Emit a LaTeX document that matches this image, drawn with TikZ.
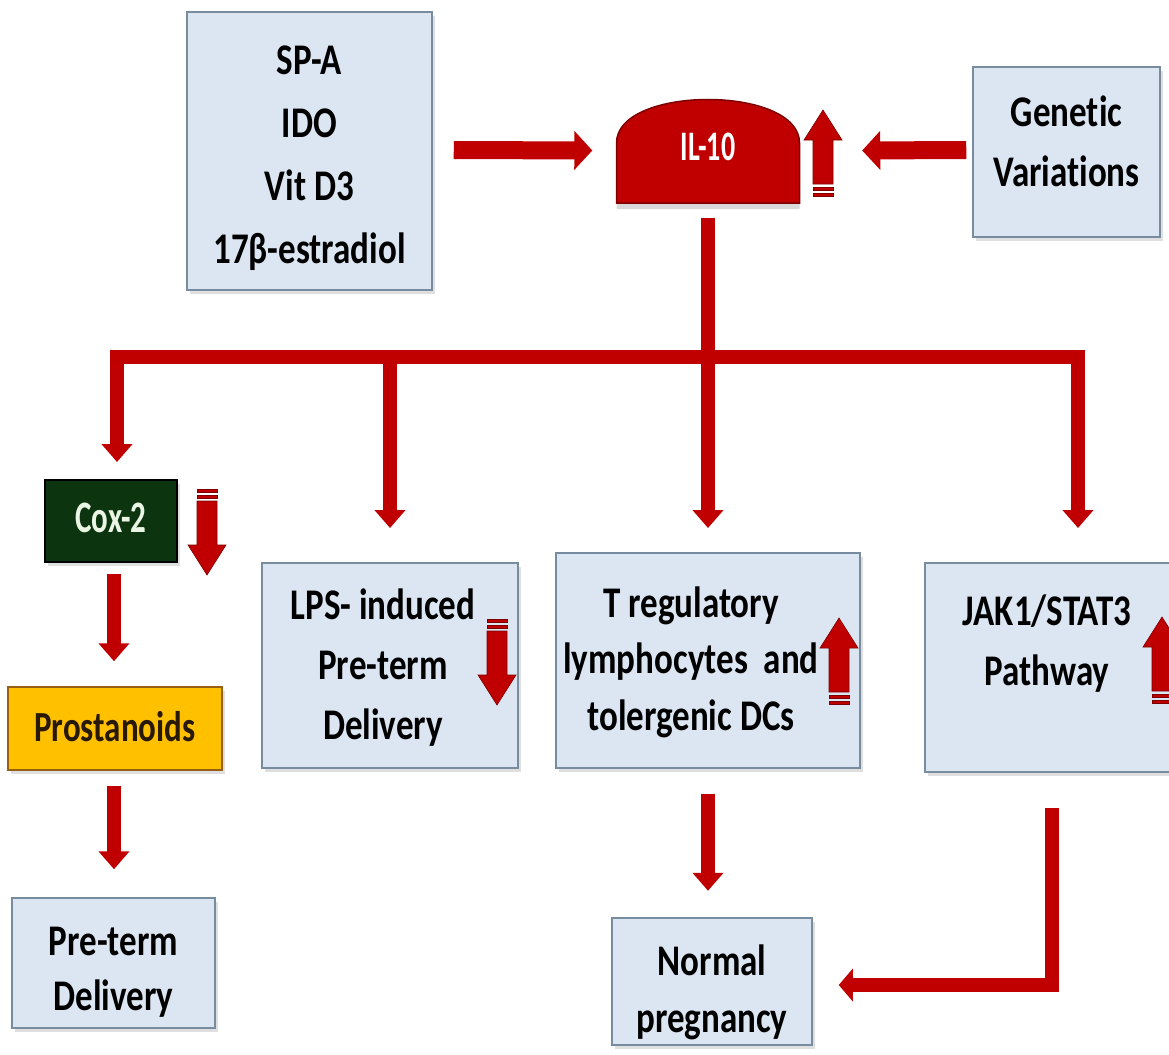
\documentclass[tikz,border=0pt]{standalone}
\usepackage{fontspec}
\setmainfont{Carlito}[Ligatures=NoCommon]
\usepackage{graphicx}
\usetikzlibrary{arrows.meta,shadows,calc}
\definecolor{boxfill}{RGB}{220,230,242}
\definecolor{boxline}{RGB}{120,140,160}
\definecolor{ared}{RGB}{192,0,0}
\definecolor{dred}{RGB}{125,0,0}
\definecolor{coxgreen}{RGB}{12,52,14}
\definecolor{gold}{RGB}{255,192,0}
\definecolor{goldline}{RGB}{150,95,20}
\newcommand\stx[4]{\scalebox{1}[#1]{\fontsize{#2}{#3}\selectfont\bfseries\begin{tabular}{@{}c@{}}#4\end{tabular}}}
\newcommand\vmove[2]{\raisebox{#1}[\height][\depth]{#2}}
\tikzset{
  pics/upind/.style={code={
    \filldraw[fill=ared,draw=dred,line width=0.6pt] (0,0) -- (19,30) -- (10,30) -- (10,74) -- (-10,74) -- (-10,30) -- (-19,30) -- cycle;
    \filldraw[fill=ared,draw=dred,line width=0.4pt] (-10,77) rectangle (10,80);
    \filldraw[fill=ared,draw=dred,line width=0.4pt] (-10,83) rectangle (10,86);
  }}
}
\begin{document}
\begin{tikzpicture}[x=1pt,y=-1pt,
  box/.style={draw=boxline, line width=1.5pt, fill=boxfill, inner sep=0pt,
    drop shadow={opacity=0.25, shadow xshift=3pt, shadow yshift=-4pt}},
  fat/.style={draw=ared, line width=18pt, -{Triangle[width=38pt,length=18pt]}},
  med/.style={draw=ared, line width=14pt, line join=miter, -{Triangle[width=30pt,length=18pt]}},
  trunk/.style={draw=ared, line width=14pt},
  lconn/.style={draw=ared, line width=14pt, line join=miter, -{Triangle[width=32pt,length=14pt]}}]
\useasboundingbox (0,0) rectangle (1169,1054);
\clip (0,0) rectangle (1169,1054);

% boxes
\node[box, minimum width=245, minimum height=278] (spa) at (309.5,151)
  {\vmove{-5pt}{\stx{1.25}{35}{50.4}{SP-A\\IDO\\Vit D3\\17β-estradiol}}};
\node[box, minimum width=187, minimum height=170] (gen) at (1066.5,152)
  {\vmove{8pt}{\stx{1.25}{35}{48}{Genetic\\Variations}}};

% IL-10 dome
\draw[draw=dred, fill=ared, line width=1.5pt,
  drop shadow={opacity=0.3, shadow xshift=0pt, shadow yshift=-6pt}]
  (616.5,203) -- (616.5,143) .. controls (616.5,85) and (799.5,85) .. (799.5,143) -- (799.5,203) -- cycle;
\node[minimum width=183, minimum height=105, inner sep=0pt, text=white] (il10) at (708,150.5)
  {\stx{1.5}{28}{34}{IL-10}};

\node[box, draw=black, fill=coxgreen, minimum width=132, minimum height=82, text={rgb,255:red,235;green,245;blue,230}] (cox) at (111,521)
  {\stx{1.45}{31}{38}{Cox-2}};
\node[box, draw=goldline, fill=gold, minimum width=214, minimum height=83, text={rgb,255:red,40;green,25;blue,5}] (pros) at (115,728.5)
  {\vmove{-3pt}{\stx{1.3}{33}{40}{Prostanoids}}};
\node[box, minimum width=203, minimum height=130] (pre) at (113.5,963)
  {\vmove{-9pt}{\stx{1.25}{35}{44}{Pre-term\\Delivery}}};
\node[box, minimum width=256, minimum height=205] (lps) at (390,665.5)
  {\kern-14pt\vmove{-2pt}{\stx{1.25}{35}{48}{LPS- induced\\Pre-term\\Delivery}}};
\node[box, minimum width=304, minimum height=215] (treg) at (708,660.5)
  {\kern-34pt\vmove{-2pt}{\stx{1.25}{35}{45}{T regulatory\\lymphocytes~ and\\tolergenic DCs}}};
\node[box, minimum width=250, minimum height=209] (jak) at (1050,667.5)
  {\kern-6pt\vmove{24pt}{\stx{1.25}{35}{48}{JAK1/STAT3\\Pathway}}};
\node[box, minimum width=200, minimum height=127] (norm) at (712,981.5)
  {\vmove{-11pt}{\stx{1.25}{35}{46}{Normal\\pregnancy}}};

% indicator arrows
\pic at (823,110) {upind};
\pic[yscale=-1] at (207,575) {upind};
\pic[yscale=-1] at (497,705) {upind};
\pic at (839,618) {upind};
\pic at (1162,617) {upind};

% connectors
\draw[fat] ($(spa.east)+(21,-1)$) -- ($(il10.west)+(-24,0)$);
\draw[fat] ($(gen.west)+(-6,-2)$) -- ($(il10.east)+(62.5,0)$);

\coordinate (hub) at ($(il10.south)+(0,154)$);
\coordinate (b2) at (390,357);
\coordinate (t1) at (117,462);
\coordinate (t2) at (390,528);
\coordinate (t3) at (708,528);
\coordinate (t4) at (1078,528);
\draw[trunk] ($(il10.south)+(0,15)$) -- (hub);
\draw[med] (hub) -| (t1);
\draw[med] (hub) -| (t4);
\draw[med] (b2) -- (t2);
\draw[med] (hub) -- (t3);

\draw[med] ($(cox.south)+(3,11)$) -- ($(pros.north)+(-1,-25)$);
\draw[med] ($(pros.south)+(-1,15)$) -- ($(pre.north)+(0.5,-28)$);
\draw[med] ($(treg.south)+(0,25)$) -- ($(treg.south)+(0,122)$);
\draw[lconn] ($(jak.south)+(2,35)$) |- ($(norm.east)+(26,3.5)$);
\end{tikzpicture}
\end{document}
